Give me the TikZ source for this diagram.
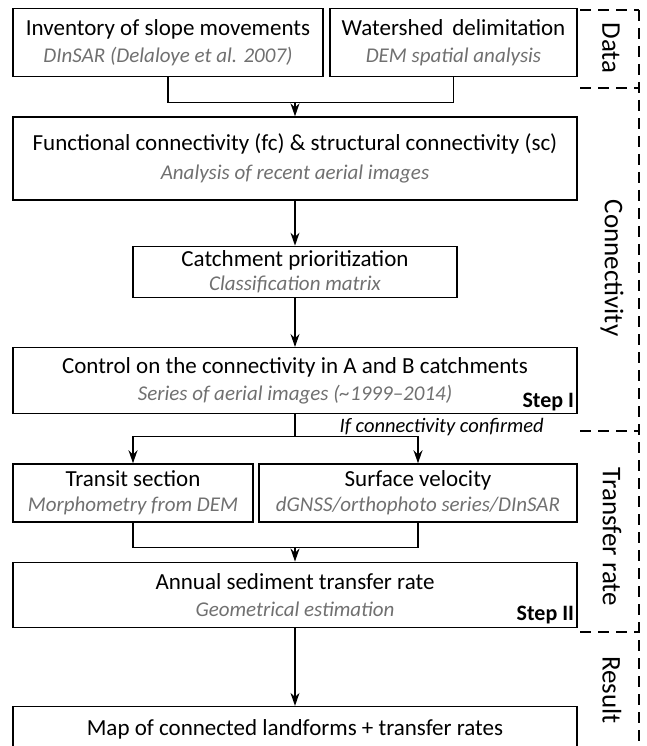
\documentclass[tikz,border=0pt]{standalone}
\usepackage{fontspec}
\setmainfont{Carlito}
\usetikzlibrary{positioning, arrows.meta}

\definecolor{subgray}{RGB}{112,112,112}
\newcommand{\subtxt}[1]{{\fontsize{21}{25}\selectfont\itshape\color{subgray}#1}}

\begin{document}
\begin{tikzpicture}[>={Stealth[length=13pt,width=9pt]}, line width=1.3pt,
  box/.style={draw, line width=1.3pt, align=center, inner sep=2pt,
    font=\fontsize{23}{27}\selectfont},
  wide/.style={box, minimum width=564pt},
  steplbl/.style={anchor=south east, inner sep=3pt,
    font=\fontsize{22}{24}\selectfont\bfseries},
  section/.style={rotate=-90, font=\fontsize{27}{30}\selectfont},
  sectline/.style={dash pattern=on 11pt off 7pt, line width=1.4pt}]

\useasboundingbox (-295pt,158.5pt) rectangle (351pt,-587.5pt);

% main column
  \node[wide, minimum height=83pt] (fc)
{Functional connectivity (fc) \& structural connectivity (sc)\\[2pt]\subtxt{Analysis of recent aerial images}};
  \node[box, minimum width=324pt, minimum height=51pt] (cat) [below=45pt of fc]
{Catchment prioritization\\[-3pt]\subtxt{Classification matrix}};
  \node[wide, minimum height=66pt] (ctrl) [below=49pt of cat]
{Control on the connectivity in A and B catchments\\\subtxt{Series of aerial images (\textasciitilde1999--2014)}};

% data boxes
  \node[box, minimum width=310pt, minimum height=68pt] (inv)
  [above=39pt of fc.north west, anchor=south west]
{Inventory of slope movements\\\subtxt{DInSAR (Delaloye et al. 2007)}};
  \node[box, minimum width=247pt, minimum height=68pt] (wsh)
  [above=39pt of fc.north east, anchor=south east]
{Watershed\, delimitation\\\subtxt{DEM spatial analysis}};

% transfer boxes
  \node[box, minimum width=240pt, minimum height=58pt] (tra)
  [below=49pt of ctrl.south west, anchor=north west]
{Transit section\\[-2pt]\subtxt{Morphometry from DEM}};
  \node[box, minimum width=318pt, minimum height=58pt] (vel)
  [below=49pt of ctrl.south east, anchor=north east]
{Surface velocity\\[-2pt]\subtxt{dGNSS/orthophoto series/DInSAR}};
  \node[wide, minimum height=65pt] (ann)
  [below=39pt of tra.south west, anchor=north west]
{Annual sediment transfer rate\\\subtxt{Geometrical estimation}};
  \node[wide, minimum height=46pt] (map) [below=78pt of ann]
{Map of connected landforms + transfer rates};

% step labels
  \node[steplbl] (s1) at (ctrl.south east) {Step I};
  \node[steplbl] (s2) at (ann.south east) {Step II};

% junctions
  \coordinate (j1) at ([yshift=14pt]fc.north);
  \coordinate (j2) at ([yshift=-22pt]ctrl.south);
  \coordinate (j3) at ([yshift=14pt]ann.north);

% links
  \draw (inv.south) |- (j1) -| (wsh.south);
  \draw[->] (j1) -- (fc.north);
  \draw[->] (fc.south) -- (cat.north);
  \draw[->] (cat.south) -- (ctrl.north);
  \draw (ctrl.south) -- (j2);
  \draw[->] (j2) -| (tra.north);
  \draw[->] (j2) -| (vel.north);
  \node[anchor=base west, inner sep=0pt, font=\fontsize{20.5}{24}\selectfont\itshape]
    (cond) at ([xshift=44pt, yshift=4pt]j2) {If connectivity confirmed};
  \draw (tra.south) |- (j3) -| (vel.south);
  \draw[->] (j3) -- (ann.north);
  \draw[->] (ann.south) -- (map.north);

% sections on the right
  \draw[sectline] (344pt,148.5pt) -- (344pt,-587.5pt);
  \foreach \y in {148.5, 70.5, -272.5, -473.5}
    \draw[sectline] (285pt,\y pt) -- (344pt,\y pt);
  \node[section] (data) at (316pt,110.5pt) {Data};
  \node[section] (conn) at (317pt,-109.5pt) {Connectivity};
  \node[section] (rate) at (317pt,-378.5pt) {Transfer rate};
  \node[section] (res) at (317pt,-531.5pt) {Result};

\end{tikzpicture}
\end{document}
